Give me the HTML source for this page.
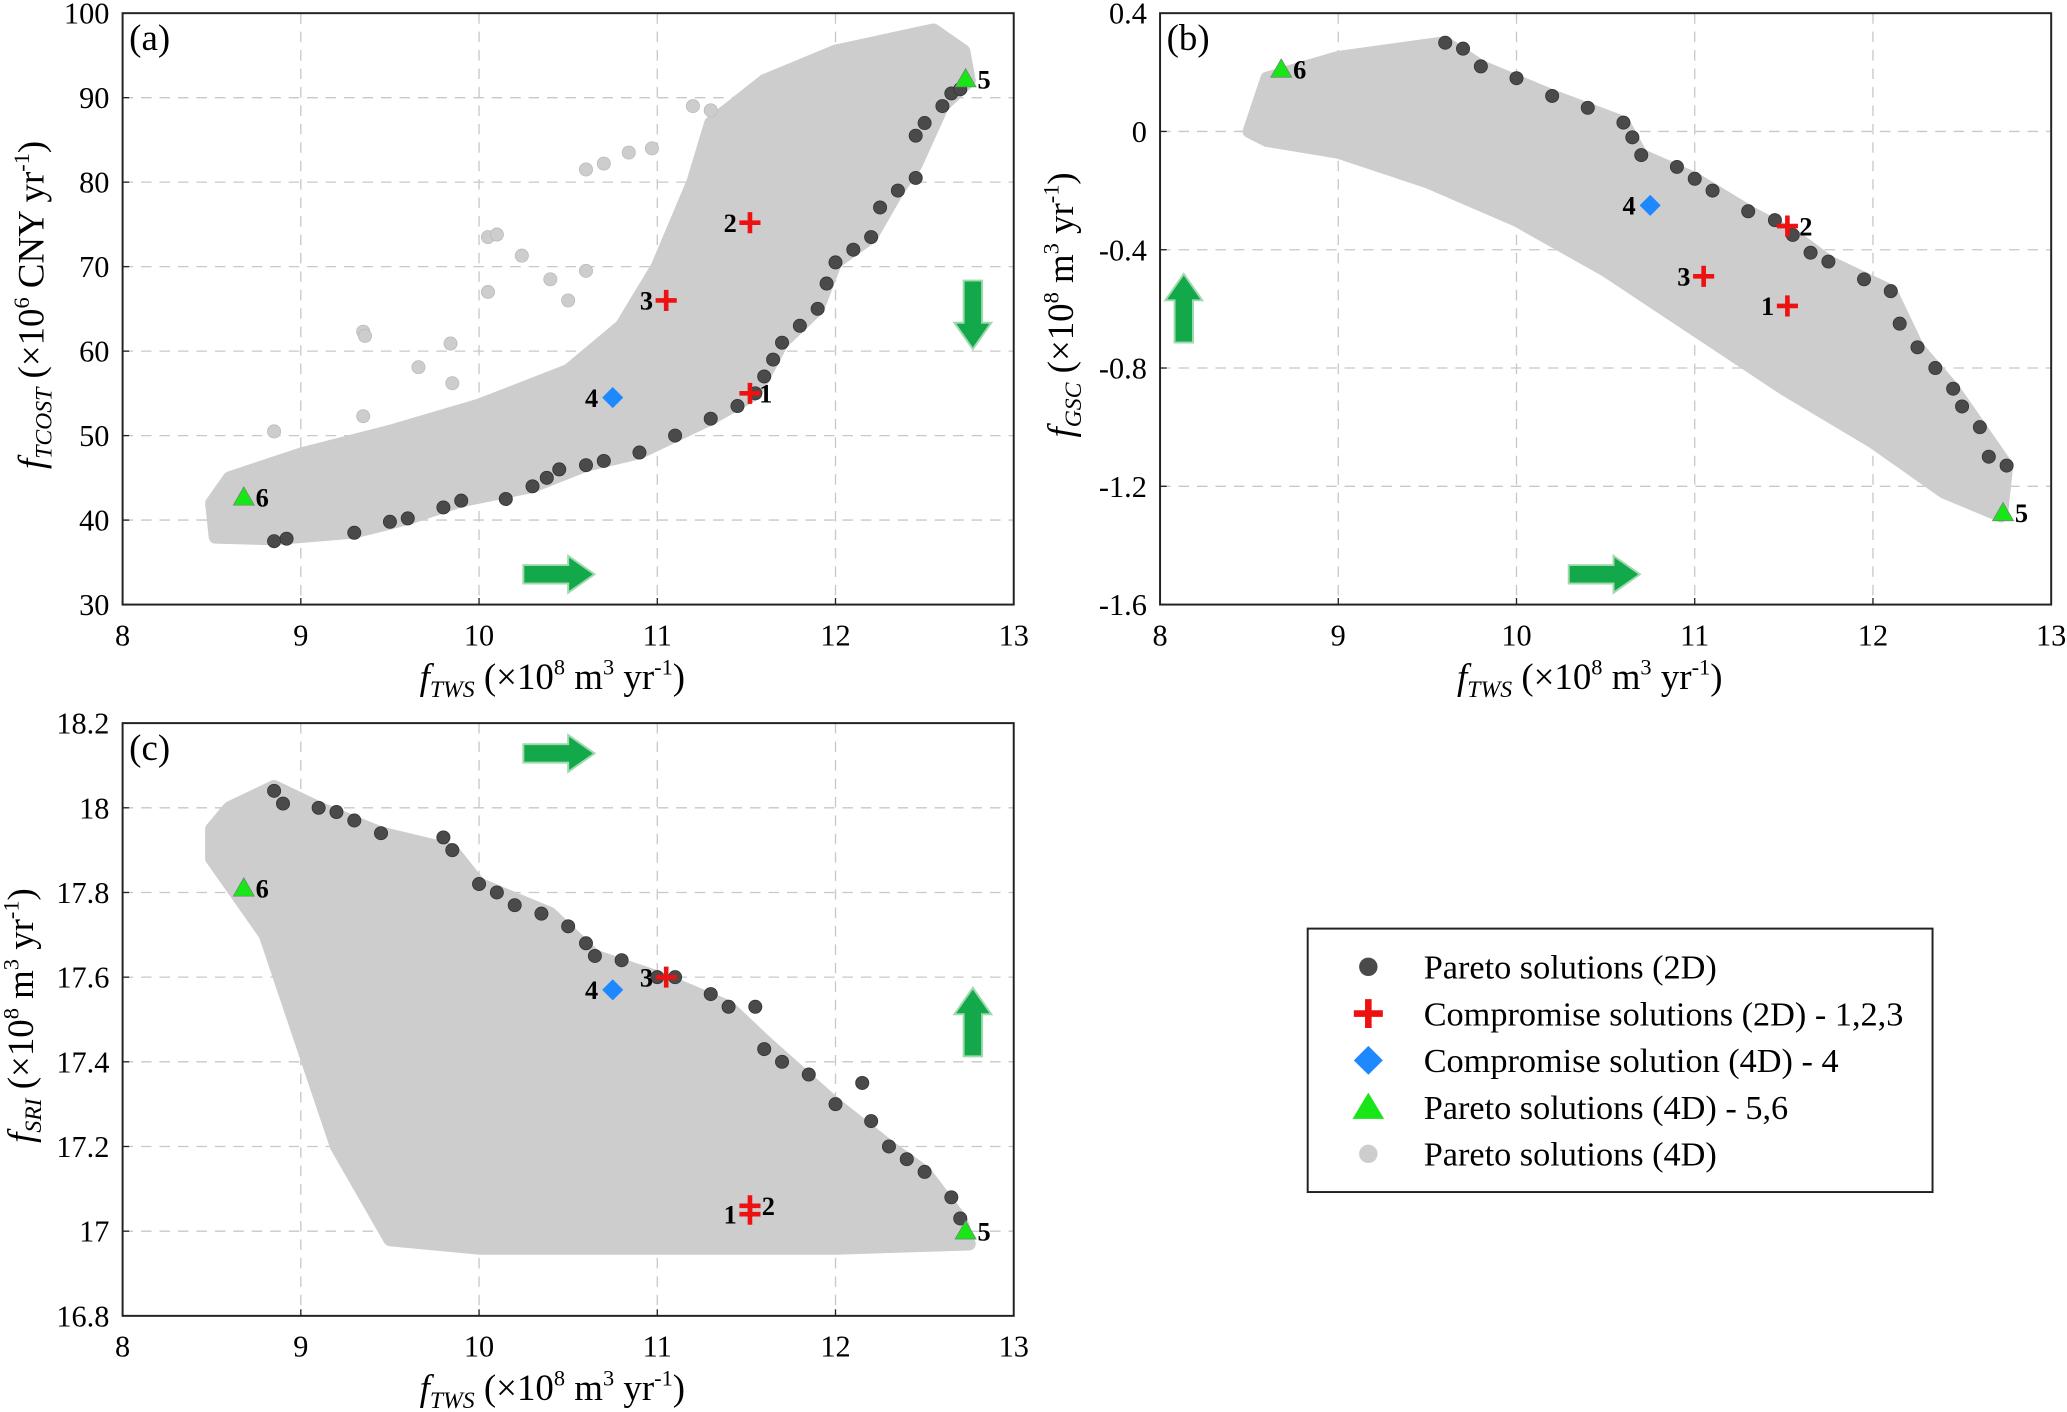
<!DOCTYPE html>
<html><head><meta charset="utf-8"><style>
html,body{margin:0;padding:0;background:#fff;}
svg{display:block;}
svg text{font-family:"Liberation Serif","DejaVu Serif",serif;}
</style></head><body>
<svg id="fig" width="2067" height="1412" viewBox="0 0 1568 1072" preserveAspectRatio="none" xmlns="http://www.w3.org/2000/svg" font-family="Liberation Serif, serif">
<defs>
<clipPath id="ca"><rect x="93" y="10" width="676" height="449"/></clipPath>
<clipPath id="cb"><rect x="880" y="10" width="676" height="449"/></clipPath>
<clipPath id="cc"><rect x="93" y="549" width="676" height="450"/></clipPath>
</defs>
</svg>
<script>
// ---- data ----
const xTicks=[8,9,10,11,12,13];
const aTicks=[30,40,50,60,70,80,90,100];
const bTicks=[-1.6,-1.2,-0.8,-0.4,0,0.4];
const bTickLabels=["-1.6","-1.2","-0.8","-0.4","0","0.4"];
const cTicks=[16.8,17,17.2,17.4,17.6,17.8,18,18.2];
const cTickLabels=["16.8","17","17.2","17.4","17.6","17.8","18","18.2"];
const aCloud=[[8.52,38],[8.85,37.8],[9.3,38.6],[9.6,40.2],[9.9,42.3],[10.3,44],[10.6,46.5],[10.9,48],[11.3,52],[11.55,55],[11.7,61],[11.9,65],[12.0,70.5],[12.2,73.5],[12.35,79],[12.45,82],[12.6,89],[12.75,92],[12.72,95.5],[12.55,98],[12.0,95.5],[11.6,92],[11.3,87],[11.2,80],[11.0,70],[10.8,63],[10.5,57.7],[10.0,53.6],[9.5,50.5],[9.0,47.8],[8.6,45],[8.5,42]];
const aOut=[[10.84,83.5],[10.97,84],[10.6,81.5],[10.7,82.2],[10.05,73.5],[10.1,73.8],[10.24,71.3],[9.35,62.3],[9.36,61.8],[9.66,58.1],[9.85,56.2],[9.35,52.3],[8.85,50.5],[9.84,60.9],[10.05,67],[10.5,66],[10.4,68.5],[10.6,69.5],[11.2,89],[11.3,88.5]];
const aDark=[[8.85,37.5],[8.92,37.8],[9.3,38.5],[9.5,39.8],[9.6,40.2],[9.8,41.5],[9.9,42.3],[10.15,42.5],[10.3,44],[10.38,45],[10.45,46],[10.6,46.5],[10.7,47],[10.9,48],[11.1,50],[11.3,52],[11.45,53.5],[11.55,55],[11.6,57],[11.65,59],[11.7,61],[11.8,63],[11.9,65],[11.95,68],[12.0,70.5],[12.1,72],[12.2,73.5],[12.25,77],[12.35,79],[12.45,80.5],[12.45,85.5],[12.5,87],[12.6,89],[12.65,90.5],[12.7,91]];
const aMarks={cross:[[11.52,55,"1"],[11.52,75.2,"2"],[11.05,66,"3"]],diamond:[[10.75,54.5,"4"]],tri:[[12.73,92.2,"5"],[8.68,42.7,"6"]]};
const bCloud=[[8.5,0.0],[8.6,0.18],[9.0,0.25],[9.6,0.3],[9.8,0.22],[10.2,0.12],[10.6,0.03],[10.7,-0.08],[11.0,-0.16],[11.3,-0.27],[11.55,-0.35],[11.75,-0.44],[12.1,-0.54],[12.25,-0.73],[12.45,-0.87],[12.6,-1.0],[12.75,-1.13],[12.72,-1.3],[12.4,-1.22],[12.0,-1.05],[11.5,-0.87],[11.0,-0.67],[10.5,-0.47],[10.0,-0.3],[9.5,-0.17],[9.0,-0.07],[8.6,-0.03]];
const bDark=[[9.6,0.3],[9.7,0.28],[9.8,0.22],[10.0,0.18],[10.2,0.12],[10.4,0.08],[10.6,0.03],[10.65,-0.02],[10.7,-0.08],[10.9,-0.12],[11.0,-0.16],[11.1,-0.2],[11.3,-0.27],[11.45,-0.3],[11.55,-0.35],[11.65,-0.41],[11.75,-0.44],[11.95,-0.5],[12.1,-0.54],[12.15,-0.65],[12.25,-0.73],[12.35,-0.8],[12.45,-0.87],[12.5,-0.93],[12.6,-1.0],[12.65,-1.1],[12.75,-1.13]];
const bMarks={cross:[[11.52,-0.59,"1"],[11.52,-0.32,"2"],[11.05,-0.49,"3"]],diamond:[[10.75,-0.25,"4"]],tri:[[12.73,-1.29,"5"],[8.68,0.21,"6"]]};
const cCloud=[[8.5,17.95],[8.6,18.0],[8.85,18.05],[9.1,18.0],[9.45,17.94],[9.85,17.9],[10.0,17.82],[10.4,17.75],[10.65,17.65],[11.0,17.6],[11.4,17.53],[11.6,17.45],[12.0,17.3],[12.3,17.2],[12.5,17.14],[12.7,17.03],[12.75,16.97],[12.0,16.96],[11.0,16.96],[10.0,16.96],[9.5,16.98],[9.2,17.2],[9.0,17.45],[8.8,17.7],[8.5,17.88]];
const cDark=[[8.85,18.04],[8.9,18.01],[9.1,18.0],[9.2,17.99],[9.3,17.97],[9.45,17.94],[9.8,17.93],[9.85,17.9],[10.0,17.82],[10.1,17.8],[10.2,17.77],[10.35,17.75],[10.5,17.72],[10.6,17.68],[10.65,17.65],[10.8,17.64],[11.0,17.6],[11.1,17.6],[11.3,17.56],[11.4,17.53],[11.55,17.53],[11.6,17.43],[11.7,17.4],[11.85,17.37],[12.0,17.3],[12.15,17.35],[12.2,17.26],[12.3,17.2],[12.4,17.17],[12.5,17.14],[12.65,17.08],[12.7,17.03]];
const cMarks={cross:[[11.52,17.04,"1"],[11.52,17.06,"2"],[11.05,17.6,"3"]],diamond:[[10.75,17.57,"4"]],tri:[[12.73,17.0,"5"],[8.68,17.81,"6"]]};

const NS="http://www.w3.org/2000/svg";
const svg=document.getElementById('fig');
function mk(tag,attrs,parent,txt){const e=document.createElementNS(NS,tag);for(const k in attrs)e.setAttribute(k,attrs[k]);if(tag==='text')e.setAttribute('font-family','Liberation Serif, serif');if(txt!==undefined)e.textContent=txt;(parent||svg).appendChild(e);return e;}

function panel(p){
  const g=mk('g',{});
  
  
  const X=v=>p.x0+(v-8)/5*p.w;
  const Y=v=>p.y0+p.h-(v-p.ymin)/(p.ymax-p.ymin)*p.h;
  xTicks.forEach(t=>{ if(t>8&&t<13){const l=mk('line',{x1:X(t),x2:X(t),y1:p.y0,y2:p.y0+p.h,stroke:'#c8c8c8','stroke-dasharray':'8,6','stroke-width':1},g);}});
  p.yt.forEach(t=>{ if(t>p.ymin+1e-9&&t<p.ymax-1e-9){const l=mk('line',{x1:p.x0,x2:p.x0+p.w,y1:Y(t),y2:Y(t),stroke:'#c8c8c8','stroke-dasharray':'8,6','stroke-width':1},g);}});
  const cg=mk('g',{'clip-path':'url(#'+p.clip+')'},g);
  const poly=mk('polygon',{points:p.cloud.map(d=>X(d[0])+','+Y(d[1])).join(' '),fill:'#cdcdcd',stroke:'#cdcdcd','stroke-width':10,'stroke-linejoin':'round'},cg);
  
  
  (p.out||[]).forEach(d=>{const c=mk('circle',{cx:X(d[0]),cy:Y(d[1]),r:5,fill:'#cdcdcd',stroke:'#bbb','stroke-width':0.6},cg);});
  p.dark.forEach(d=>{const c=mk('circle',{cx:X(d[0]),cy:Y(d[1]),r:5,fill:'#4a4a4a',stroke:'#333','stroke-width':0.6},cg);});
  const lab=(x,y,t,dx)=>{const e=mk('text',{x:x+dx,y:y+7,'font-size':20,'font-weight':'bold','text-anchor':dx<0?'end':'start'},g,t);};
  p.m.diamond.forEach(d=>{const x=X(d[0]),y=Y(d[1]);const e=mk('polygon',{points:`${x},${y-8} ${x+8},${y} ${x},${y+8} ${x-8},${y}`,fill:'#1e88ff'},g);lab(x,y,d[2],-11);});
  p.m.tri.forEach((d,i)=>{const x=X(d[0]),y=Y(d[1]);const e=mk('polygon',{points:`${x},${y-8} ${x+8},${y+6} ${x-8},${y+6}`,fill:'#19e619',stroke:'#777','stroke-width':0.5},g);lab(x,y,d[2],9);});
  p.m.cross.forEach((d,i)=>{const x=X(d[0]),y=Y(d[1]);const e=mk('path',{d:`M${x-8},${y}H${x+8}M${x},${y-8}V${y+8}`,stroke:'#ee1111','stroke-width':3.5},g);
    const dx=(d[2]==="1"||d[2]==="3")?-10:9; if(p.id==='a'&&d[2]==="1")lab(x,y,d[2],7); else if(p.id==='a'&&d[2]==="2")lab(x,y,d[2],-10); else lab(x,y,d[2],dx);});
  const fr=mk('rect',{x:p.x0,y:p.y0,width:p.w,height:p.h,fill:'none',stroke:'#222','stroke-width':1.5},g);
  
  xTicks.forEach(t=>{const e=mk('text',{x:X(t),y:p.y0+p.h+31,'font-size':23,'text-anchor':'middle'},g,String(t));
    mk('line',{x1:X(t),x2:X(t),y1:p.y0+p.h,y2:p.y0+p.h-5,stroke:'#222'},g);});
  p.yt.forEach((t,i)=>{const e=mk('text',{x:p.x0-10,y:Y(t)+8,'font-size':23,'text-anchor':'end'},g,p.ytl[i]);
    mk('line',{x1:p.x0,x2:p.x0+5,y1:Y(t),y2:Y(t),stroke:'#222'},g);});
  const pl=mk('text',{x:p.x0+5,y:p.y0+28,'font-size':28},g,'('+p.id+')');
  const xt=mk('text',{x:p.x0+p.w/2-12,y:p.y0+p.h+64,'font-size':28,'text-anchor':'middle'},g);
  
  xt.innerHTML='<tspan font-style="italic">f</tspan><tspan font-style="italic" font-size="18" dy="6">TWS</tspan><tspan dy="-6"> (×10</tspan><tspan font-size="17" dy="-11">8</tspan><tspan dy="11"> m</tspan><tspan font-size="17" dy="-11">3</tspan><tspan dy="11"> yr</tspan><tspan font-size="17" dy="-11">-1</tspan><tspan dy="11">)</tspan>';
  const yt=mk('text',{transform:`translate(${p.x0-p.ytOff},${p.y0+p.h/2-3}) rotate(-90)`,'font-size':28,'text-anchor':'middle'},g);
  
  yt.innerHTML=p.ytitle;
  p.arrows.forEach(a=>{const [cx,cy,dir]=a;let pts;
    if(dir==='r')pts=`${cx-27},${cy-7} ${cx+7},${cy-7} ${cx+7},${cy-14} ${cx+27},${cy} ${cx+7},${cy+14} ${cx+7},${cy+7} ${cx-27},${cy+7}`;
    else if(dir==='d')pts=`${cx-7},${cy-26} ${cx+7},${cy-26} ${cx+7},${cy+6} ${cx+14},${cy+6} ${cx},${cy+26} ${cx-14},${cy+6} ${cx-7},${cy+6}`;
    else pts=`${cx-7},${cy+26} ${cx+7},${cy+26} ${cx+7},${cy-6} ${cx+14},${cy-6} ${cx},${cy-26} ${cx-14},${cy-6} ${cx-7},${cy-6}`;
    const e=mk('polygon',{points:pts,fill:'#13a84a',stroke:'#9fd9ae','stroke-width':1.5},g);});
}
const sup=(t)=>`<tspan font-size="17" dy="-11">${t}</tspan>`;
const yt_a='<tspan font-style="italic">f</tspan><tspan font-style="italic" font-size="18" dy="6">TCOST</tspan><tspan dy="-6"> (×10</tspan>'+sup('6')+'<tspan dy="11"> CNY yr</tspan>'+sup('-1')+'<tspan dy="11">)</tspan>';
const yt_b='<tspan font-style="italic">f</tspan><tspan font-style="italic" font-size="18" dy="6">GSC</tspan><tspan dy="-6"> (×10</tspan>'+sup('8')+'<tspan dy="11"> m</tspan>'+sup('3')+'<tspan dy="11"> yr</tspan>'+sup('-1')+'<tspan dy="11">)</tspan>';
const yt_c='<tspan font-style="italic">f</tspan><tspan font-style="italic" font-size="18" dy="6">SRI</tspan><tspan dy="-6"> (×10</tspan>'+sup('8')+'<tspan dy="11"> m</tspan>'+sup('3')+'<tspan dy="11"> yr</tspan>'+sup('-1')+'<tspan dy="11">)</tspan>';
panel({id:'a',x0:93,y0:10,w:676,h:449,ymin:30,ymax:100,yt:aTicks,ytl:aTicks.map(String),cloud:aCloud,out:aOut,dark:aDark,m:aMarks,clip:'ca',ytitle:yt_a,ytOff:60,arrows:[[424,436,'r'],[738,239,'d']]});
panel({id:'b',x0:880,y0:10,w:676,h:449,ymin:-1.6,ymax:0.4,yt:bTicks,ytl:bTickLabels,cloud:bCloud,dark:bDark,m:bMarks,clip:'cb',ytitle:yt_b,ytOff:66,arrows:[[1217,436,'r'],[898,234,'u']]});
panel({id:'c',x0:93,y0:549,w:676,h:450,ymin:16.8,ymax:18.2,yt:cTicks,ytl:cTickLabels,cloud:cCloud,dark:cDark,m:cMarks,clip:'cc',ytitle:yt_c,ytOff:68,arrows:[[424,572,'r'],[738,776,'u']]});

const lg=mk('g',{});


mk('rect',{x:992,y:705,width:474,height:200,fill:'#fff',stroke:'#222','stroke-width':1.5},lg);
const items=['Pareto solutions (2D)','Compromise solutions (2D) - 1,2,3','Compromise solution (4D) - 4','Pareto solutions (4D) - 5,6','Pareto solutions (4D)'];
items.forEach((t,i)=>{const y=734+i*35.5, x=1038;
  let e;
  if(i===0)e=mk('circle',{cx:x,cy:y,r:7,fill:'#4a4a4a'},lg);
  else if(i===1)e=mk('path',{d:`M${x-11},${y}H${x+11}M${x},${y-11}V${y+11}`,stroke:'#ee1111','stroke-width':5},lg);
  else if(i===2)e=mk('polygon',{points:`${x},${y-11} ${x+11},${y} ${x},${y+11} ${x-11},${y}`,fill:'#1e88ff'},lg);
  else if(i===3)e=mk('polygon',{points:`${x},${y-11} ${x+12},${y+9} ${x-12},${y+9}`,fill:'#19e619'},lg);
  else e=mk('circle',{cx:x,cy:y,r:7,fill:'#cdcdcd'},lg);
  
  
  const tx=mk('text',{x:1080,y:y+9,'font-size':26},lg,t);
  
  
});
</script>
</body></html>
